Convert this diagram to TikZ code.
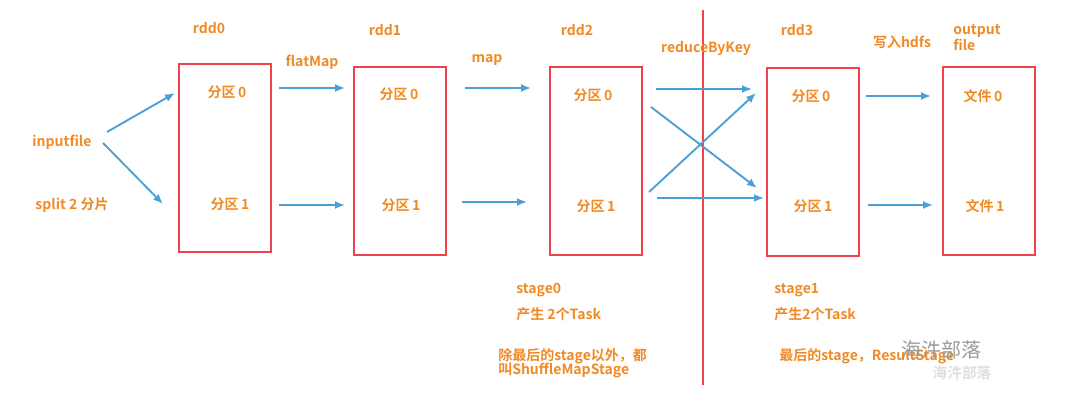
\documentclass[tikz,border=0pt]{standalone}
\usepackage{fontspec}
\setmainfont{Noto Sans CJK SC}[BoldFont={* Bold}]
\usetikzlibrary{arrows.meta}
\definecolor{txtor}{RGB}{240,138,36}
\definecolor{arrblue}{RGB}{74,159,212}
\definecolor{boxred}{RGB}{240,64,74}
\tikzset{
  rddbox/.style={draw=boxred, line width=1.5pt, minimum width=92*0.75pt, minimum height=188*0.75pt, inner sep=0pt},
  lbl/.style={text=txtor, font=\fontsize{10.5}{12}\selectfont\bfseries, inner sep=0pt},
  flow/.style={draw=arrblue, line width=1.4pt, -{Latex[length=7.5pt,width=6pt]}},
}
\begin{document}
\begin{tikzpicture}[x=0.75pt,y=-0.75pt]
\useasboundingbox (0,0) rectangle (1086,404);
% boxes
\node[rddbox] (b0) at (225,157.5) {};
\node[rddbox] (b1) at (400,160.5) {};
\node[rddbox] (b2) at (596,161) {};
\node[rddbox] (b3) at (812.5,161.5) {};
\node[rddbox] (b4) at (988.5,161) {};
% stage divider
\coordinate (vtop) at (703,10);
\coordinate (vbot) at (703,385);
\draw[boxred, line width=1.5pt] (vtop) -- (vbot);
% titles
\node[lbl] (t0) at (209,28) {rdd0};
\node[lbl] (t1) at (385,30) {rdd1};
\node[lbl] (t2) at (577,30) {rdd2};
\node[lbl] (t3) at (797,30) {rdd3};
\node[lbl, align=left] (t4) at (977,38) {output\\[0pt]file};
% partitions
\node[lbl] (p00) at (227,92) {分区\,0};
\node[lbl] (p01) at (230,204) {分区\,1};
\node[lbl] (p10) at (399,94) {分区\,0};
\node[lbl] (p11) at (401,205) {分区\,1};
\node[lbl] (p20) at (593,95) {分区\,0};
\node[lbl] (p21) at (596,206) {分区\,1};
\node[lbl] (p30) at (811,96) {分区\,0};
\node[lbl] (p31) at (813,206) {分区\,1};
\node[lbl] (p40) at (983,96) {文件\,0};
\node[lbl] (p41) at (985,206) {文件\,1};
% input
\node[lbl] (in) at (62,142) {inputfile};
\node[lbl] (sp) at (72,205) {split 2 分片};
% op labels
\node[lbl] (op1) at (312,62) {flatMap};
\node[lbl] (op2) at (487,60) {map};
\node[lbl] (op3) at (706,48) {reduceByKey};
\node[lbl] (op4) at (902,42) {写入hdfs};
% arrow endpoints
\coordinate (a1s) at (107,132); \coordinate (a1e) at (175,93);
\coordinate (a2s) at (103,143); \coordinate (a2e) at (163,204);
\coordinate (f0s) at (279,88);  \coordinate (f0e) at (345,88);
\coordinate (f1s) at (279,205); \coordinate (f1e) at (345,205);
\coordinate (m0s) at (465,88);  \coordinate (m0e) at (531,88);
\coordinate (m1s) at (462,202); \coordinate (m1e) at (527,202);
\coordinate (r0s) at (656,89);  \coordinate (r0e) at (752,89);
\coordinate (r1s) at (651,107); \coordinate (r1e) at (757,188);
\coordinate (r2s) at (649,192); \coordinate (r2e) at (756,93);
\coordinate (r3s) at (657,198); \coordinate (r3e) at (764,198);
\coordinate (w0s) at (866,96);  \coordinate (w0e) at (931,96);
\coordinate (w1s) at (868,205); \coordinate (w1e) at (933,205);
\draw[flow] (a1s) -- (a1e);
\draw[flow] (a2s) -- (a2e);
\draw[flow] (f0s) -- (f0e);
\draw[flow] (f1s) -- (f1e);
\draw[flow] (m0s) -- (m0e);
\draw[flow] (m1s) -- (m1e);
\draw[flow] (r0s) -- (r0e);
\draw[flow] (r1s) -- (r1e);
\draw[flow] (r2s) -- (r2e);
\draw[flow] (r3s) -- (r3e);
\draw[flow] (w0s) -- (w0e);
\draw[flow] (w1s) -- (w1e);
% stage notes
\node[lbl, anchor=west] (s0a) at (516,290) {stage0};
\node[lbl, anchor=west] (s0b) at (516,314) {产生 2个Task};
\node[lbl, anchor=west, align=left] (s0c) at (498,363) {除最后的stage以外，都\\[-2pt]叫ShuffleMapStage};
\node[lbl, anchor=west] (s1a) at (774,290) {stage1};
\node[lbl, anchor=west] (s1b) at (774,314) {产生2个Task};
\node[lbl, anchor=west] (s1c) at (779,356) {最后的stage，ResultStage};
% watermark
\node[text=gray!80, font=\fontsize{15}{17}\selectfont, inner sep=0pt] (wm1) at (941,350) {海汼部落};
\node[text=gray!25, font=\fontsize{11}{13}\selectfont\bfseries, inner sep=0pt] (wm2) at (962,373) {海汼部落};
\end{tikzpicture}
\end{document}
